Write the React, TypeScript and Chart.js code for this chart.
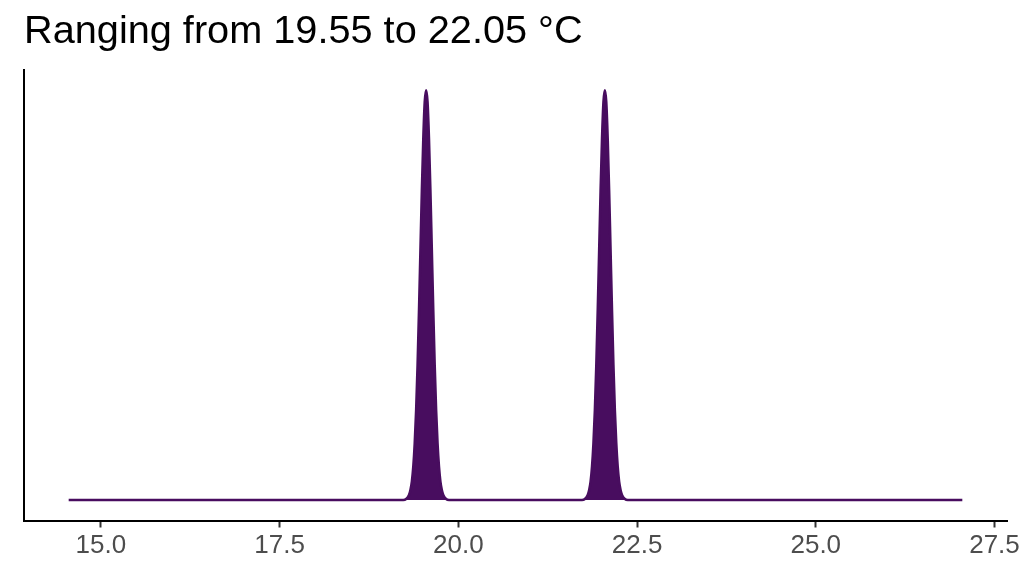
import React, { useRef, useEffect } from 'react';
import Chart from 'chart.js/auto';

// temperature grid (°C) and the density
const tempX: number[] = [
    14.55,
    19.23, 19.27, 19.31, 19.33, 19.35, 19.37, 19.39, 19.41, 19.43, 19.45, 19.47, 19.49, 19.51, 19.53,
    19.55,
    19.57, 19.59, 19.61, 19.63, 19.65, 19.67, 19.69, 19.71, 19.73, 19.75, 19.77, 19.79, 19.83, 19.87,
    21.73, 21.77, 21.81, 21.83, 21.85, 21.87, 21.89, 21.91, 21.93, 21.95, 21.97, 21.99, 22.01, 22.03,
    22.05,
    22.07, 22.09, 22.11, 22.13, 22.15, 22.17, 22.19, 22.21, 22.23, 22.25, 22.27, 22.29, 22.33, 22.37,
    27.05
];
const density: number[] = [
    0,
    0, 0.006, 0.03, 0.06, 0.11, 0.20, 0.34, 0.54, 0.81, 1.14, 1.50, 1.86, 2.17, 2.39,
    2.46,
    2.39, 2.17, 1.86, 1.50, 1.14, 0.81, 0.54, 0.34, 0.20, 0.11, 0.06, 0.03, 0.006, 0,
    0, 0.006, 0.03, 0.06, 0.11, 0.20, 0.34, 0.54, 0.81, 1.14, 1.50, 1.86, 2.17, 2.39,
    2.46,
    2.39, 2.17, 1.86, 1.50, 1.14, 0.81, 0.54, 0.34, 0.20, 0.11, 0.06, 0.03, 0.006, 0,
    0
];
const xTicks: number[] = [15.0, 17.5, 20.0, 22.5, 25.0, 27.5];
const titleText = 'Ranging from 19.55 to 22.05 °C';

const fillColor = '#480d5f';
const fontFamily = '"Liberation Sans", Arial, Helvetica, sans-serif';

const App: React.FC = () => {
    const canvasRef = useRef<HTMLCanvasElement | null>(null);

    useEffect(() => {
        const ctx = canvasRef.current?.getContext('2d');
        if (!ctx) return;

        // ggplot-like 5% expansion
        const xLo = Math.min(...tempX);
        const xHi = Math.max(...tempX);
        const yHi = Math.max(...density);
        const xPad = (xHi - xLo) * 0.05;

        const chart = new Chart(ctx, {
            type: 'line',
            data: {
                datasets: [
                    {
                        data: tempX.map((x, i) => ({ x, y: density[i] })),
                        borderColor: fillColor,
                        backgroundColor: fillColor,
                        borderWidth: 2.5,
                        fill: 'origin',
                        pointRadius: 0,
                        cubicInterpolationMode: 'monotone'
                    }
                ]
            },
            options: {
                animation: false,
                responsive: true,
                maintainAspectRatio: false,
                layout: { padding: { left: 24, right: 17, top: 0, bottom: 12.5 } },
                plugins: {
                    legend: { display: false },
                    tooltip: { enabled: false },
                    title: {
                        display: true,
                        text: titleText,
                        align: 'start',
                        color: '#000000',
                        font: { family: fontFamily, size: 39.7, weight: 'normal' },
                        padding: { top: 8.6, bottom: 13.5 }
                    }
                },
                scales: {
                    x: {
                        type: 'linear',
                        min: xLo - xPad,
                        max: xHi + xPad,
                        afterBuildTicks: (scale: any) => {
                            scale.ticks = xTicks.map(v => ({ value: v }));
                        },
                        afterFit: (scale: any) => {
                            scale.paddingLeft = 0;
                            scale.paddingRight = 0;
                        },
                        grid: {
                            display: true,
                            drawOnChartArea: false,
                            drawTicks: true,
                            tickLength: 7,
                            tickColor: '#333333',
                            tickWidth: 2
                        },
                        border: { display: true, color: '#000000', width: 2 },
                        ticks: {
                            color: '#4d4d4d',
                            padding: 2.4,
                            maxRotation: 0,
                            autoSkip: false,
                            font: { family: fontFamily, size: 26 },
                            callback: (v: any) => Number(v).toFixed(1)
                        }
                    },
                    y: {
                        min: -yHi * 0.05,
                        max: yHi * 1.05,
                        grid: { display: false, drawTicks: false },
                        border: { display: true, color: '#000000', width: 2 },
                        ticks: { display: false }
                    }
                }
            }
        });

        return () => {
            chart.destroy();
        };
    }, []);

    return (
        <div style={{ position: 'fixed', left: 0, top: 0, width: 1024, height: 576, background: '#ffffff' }}>
            <canvas ref={canvasRef} />
        </div>
    );
};

export default App;
